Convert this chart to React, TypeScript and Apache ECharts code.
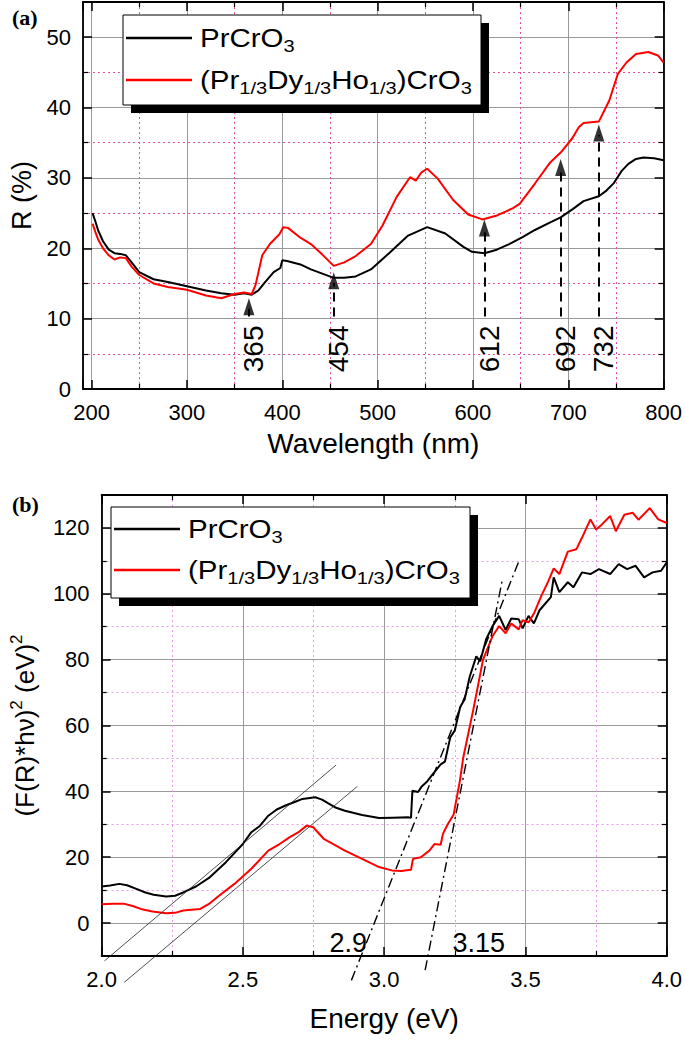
import React, { useEffect, useRef } from "react";
import * as echarts from "echarts";

// ---------- Panel (a): reflectance vs wavelength ----------
const aBlackNm = [201,204,207,212,218,224,230,236,242,250,265,280,300,320,336,350,360,368,375,382,391,398,400,405,419,430,442,454,465,477,493,512,532,552,571,590,599,612,625,638,652,665,680,692,705,716,732,740,748,756,763,771,779,790,800];
const aBlackR = [25.0,23.8,22.5,21.0,19.8,19.3,19.2,19.0,18.0,16.6,15.6,15.2,14.6,14.0,13.6,13.4,13.6,13.4,14.0,15.2,16.6,17.2,18.3,18.2,17.7,17.0,16.4,15.8,15.8,16.0,17.0,19.3,21.8,23.0,22.1,20.2,19.5,19.3,19.8,20.6,21.6,22.6,23.6,24.4,25.6,26.7,27.4,28.2,29.3,31.0,32.0,32.7,32.9,32.8,32.5];
const aRedNm = [201,204,207,212,218,224,230,236,242,250,265,280,300,320,336,350,360,368,372,379,387,397,401,406,419,430,442,454,465,477,493,505,520,534,540,546,552,563,579,595,610,626,642,649,665,681,692,704,711,716,732,743,752,761,771,784,794,800];
const aRedR = [23.5,22.3,21.2,20.0,19.0,18.4,18.7,18.6,17.4,16.2,15.0,14.5,14.1,13.3,12.9,13.5,13.7,13.5,14.8,19.0,20.6,22.0,23.0,22.9,21.5,20.6,19.1,17.5,18.0,18.9,20.6,23.2,27.3,30.1,29.6,30.8,31.3,29.9,26.9,24.8,24.1,24.7,25.7,26.3,29.2,32.2,33.6,35.6,37.2,37.8,38.0,41.0,44.8,46.4,47.6,47.9,47.4,46.4];
const arrowNm = [365, 454, 612, 692, 732];
const arrowTipR = [12.9, 16.6, 24.1, 32.7, 37.6];
const arrowBaseR = 10.3;
const arrowLabelR = 5.7;

// ---------- Panel (b): Tauc plot ----------
const bBlackE = [2.0,2.03,2.063,2.09,2.123,2.155,2.184,2.229,2.26,2.289,2.334,2.38,2.44,2.5,2.53,2.56,2.59,2.62,2.651,2.69,2.711,2.756,2.78,2.801,2.83,2.861,2.922,2.982,3.03,3.087,3.095,3.1,3.12,3.133,3.153,3.17,3.2,3.215,3.234,3.25,3.269,3.285,3.303,3.326,3.34,3.361,3.384,3.407,3.43,3.45,3.476,3.49,3.511,3.53,3.55,3.569,3.59,3.6,3.62,3.65,3.67,3.7,3.73,3.76,3.8,3.83,3.86,3.89,3.92,3.95,3.98,4.0];
const bBlackF = [11.1,11.4,11.9,11.5,10.4,9.3,8.6,8.1,8.3,9.3,11.1,13.7,18.5,24.0,27.6,29.5,32.6,34.5,35.7,37.0,37.7,38.2,37.5,36.4,35.0,34.1,32.8,31.9,32.0,32.1,32.0,40.2,39.8,41.5,43.1,45.0,48.2,49.0,56.4,58.5,65.6,68.0,74.9,81.0,79.5,86.2,90.2,93.3,89.0,92.5,92.3,89.5,93.3,91.0,95.0,96.9,99.0,105.0,100.5,103.5,102.0,106.5,106.0,107.5,106.0,109.0,107.5,108.5,105.0,106.5,107.0,109.5];
const bRedE = [2.0,2.04,2.078,2.11,2.139,2.18,2.229,2.26,2.289,2.349,2.38,2.41,2.47,2.53,2.59,2.63,2.666,2.7,2.726,2.749,2.786,2.82,2.861,2.922,2.982,3.027,3.06,3.095,3.102,3.13,3.16,3.178,3.2,3.208,3.225,3.246,3.268,3.28,3.315,3.35,3.384,3.407,3.43,3.45,3.476,3.49,3.511,3.53,3.557,3.58,3.6,3.62,3.65,3.68,3.7,3.73,3.75,3.77,3.8,3.82,3.85,3.88,3.9,3.94,3.97,4.0];
const bRedF = [5.7,5.9,5.9,5.2,4.3,3.5,3.0,3.1,3.8,4.3,5.8,7.9,11.9,16.5,22.0,24.0,26.1,27.8,29.6,29.1,25.6,24.0,22.0,19.5,17.0,16.0,15.8,16.2,19.5,20.0,22.0,24.0,23.8,27.1,30.0,33.0,43.2,50.3,64.6,80.0,87.2,90.2,88.0,91.0,89.2,92.0,91.3,94.0,99.5,103.6,107.7,106.0,112.8,113.5,117.0,122.6,119.5,121.0,123.6,119.0,124.0,124.6,122.5,126.0,122.6,121.5];
const tangentBlackE = [2.01, 2.83];
const tangentBlackF = [-11.5, 48];
const tangentRedE = [2.08, 2.905];
const tangentRedF = [-18, 41.5];
const gapBlackE = [2.884, 3.476];
const gapBlackF = [-17.4, 109.7];
const gapRedE = [3.145, 3.419];
const gapRedF = [-14.3, 104.6];
const gapLabels = ["2.9", "3.15"];
const gapLabelE = [2.873, 3.335];
const gapLabelF = -6.2;

const FONT = "'Liberation Sans', Arial, sans-serif";
const SERIF = "'Liberation Serif', 'Times New Roman', serif";

const zip = (xs: number[], ys: number[]) => xs.map((x, i) => [x, ys[i]]);

function mkAxis(o: any) {
  const mirror = !!o.mirror;
  const fmt = (v: number) => {
    const k = v / o.labelStep;
    if (Math.abs(k - Math.round(k)) > 1e-6) return "";
    return o.decimals ? v.toFixed(o.decimals) : String(Math.round(v));
  };
  const ax: any = {
    type: "value",
    gridIndex: o.gridIndex,
    position: o.position,
    min: o.min,
    max: o.max,
    axisLine: { show: true, onZero: false, lineStyle: { color: "#000", width: 1.8 } },
    axisTick: { show: true, inside: true, length: 9, lineStyle: { color: "#000", width: 1.5 } },
    minorTick: { show: true, splitNumber: 2, length: 5, lineStyle: { color: "#000", width: 1.2 } },
    axisLabel: mirror
      ? { show: false }
      : { show: true, color: "#000", fontSize: 22, fontFamily: FONT, margin: 12, formatter: fmt },
    splitLine: mirror ? { show: false } : { show: true, lineStyle: { color: "#9a9a9a", width: 1 } },
    minorSplitLine: mirror
      ? { show: false }
      : { show: true, lineStyle: { color: o.minorColor, width: 1, type: [2, 3] } },
  };
  if (o.interval !== undefined) ax.interval = o.interval;
  if (o.splitNumber !== undefined) ax.splitNumber = o.splitNumber;
  if (!mirror && o.name) {
    ax.name = o.name;
    ax.nameLocation = "middle";
    ax.nameGap = o.nameGap;
    ax.nameTextStyle = Object.assign(
      { color: "#000", fontSize: o.nameSize || 27, fontFamily: FONT },
      o.nameStyle || {}
    );
  }
  return ax;
}

function legendGroup(x: number, y: number, w: number, h: number, y1: number, y2: number) {
  const txtStyle = (text: string) => ({
    text,
    fontSize: 25,
    fontFamily: FONT,
    fill: "#000",
    align: "left",
    verticalAlign: "middle",
    lineHeight: 34,
    rich: { s: { fontSize: 17, fontFamily: FONT, fill: "#000", verticalAlign: "bottom", lineHeight: 17 } },
  });
  return [
    { type: "rect", z: 100, shape: { x: x + 8, y: y + 8, width: w, height: h }, style: { fill: "#000" } },
    { type: "rect", z: 101, shape: { x, y, width: w, height: h }, style: { fill: "#fff", stroke: "#000", lineWidth: 1 } },
    { type: "line", z: 102, shape: { x1: x + 3, y1: y1, x2: x + 69, y2: y1 }, style: { stroke: "#000", lineWidth: 2.5 } },
    { type: "line", z: 102, shape: { x1: x + 3, y1: y2, x2: x + 69, y2: y2 }, style: { stroke: "#ff0000", lineWidth: 2.5 } },
    { type: "text", z: 102, x: x + 77, y: y1, scaleX: 1.18, style: txtStyle("PrCrO{s|3}") },
    { type: "text", z: 102, x: x + 77, y: y2, scaleX: 1.18, style: txtStyle("(Pr{s|1/3}Dy{s|1/3}Ho{s|1/3})CrO{s|3}") },
  ];
}

// custom series drawing a text at a data point (positioned through the axes)
function textSeries(xi: number, yi: number, names: string[], xs: number[], ys: number[], size: number, rot: number, dx: number) {
  return {
    type: "custom",
    xAxisIndex: xi,
    yAxisIndex: yi,
    silent: true,
    z: 7,
    clip: false,
    data: xs.map((x, i) => ({ value: [x, ys[i]], name: names[i] })),
    renderItem: (params: any, api: any) => {
      const p = api.coord([api.value(0), api.value(1)]);
      return {
        type: "text",
        x: p[0] + dx,
        y: p[1],
        rotation: rot,
        style: {
          text: names[params.dataIndex],
          fill: "#000",
          fontSize: size,
          fontFamily: FONT,
          align: "center",
          verticalAlign: "middle",
        },
      };
    },
  };
}

export default function App() {
  const ref = useRef<HTMLDivElement>(null);
  useEffect(() => {
    if (!ref.current) return;
    const chart = echarts.init(ref.current, undefined, { renderer: "svg" });
    const option: any = {
      animation: false,
      backgroundColor: "#fff",
      textStyle: { fontFamily: FONT },
      grid: [
        { left: 83, top: 2, width: 582, height: 387 },
        { left: 91, top: 495, width: 577, height: 461 },
      ],
      xAxis: [
        mkAxis({ gridIndex: 0, position: "bottom", min: 191, max: 800, splitNumber: 6, labelStep: 100, minorColor: "#e0509f", name: "Wavelength (nm)", nameGap: 40, nameSize: 28 }),
        mkAxis({ gridIndex: 0, position: "top", min: 191, max: 800, splitNumber: 6, labelStep: 100, mirror: true }),
        mkAxis({ gridIndex: 1, position: "bottom", min: 2, max: 4, interval: 0.5, labelStep: 0.5, decimals: 1, minorColor: "#e79be8", name: "Energy (eV)", nameGap: 48, nameSize: 28 }),
        mkAxis({ gridIndex: 1, position: "top", min: 2, max: 4, interval: 0.5, labelStep: 0.5, mirror: true }),
      ],
      yAxis: [
        mkAxis({ gridIndex: 0, position: "left", min: 0, max: 55, interval: 10, labelStep: 10, minorColor: "#e0509f", name: "R (%)", nameGap: 48, nameSize: 27 }),
        mkAxis({ gridIndex: 0, position: "right", min: 0, max: 55, interval: 10, labelStep: 10, mirror: true }),
        mkAxis({
          gridIndex: 1, position: "left", min: -10, max: 130, splitNumber: 7, labelStep: 20, minorColor: "#e79be8",
          name: "(F(R)*hν){p|2} (eV){p|2}", nameGap: 58, nameSize: 26,
          nameStyle: { lineHeight: 34, rich: { p: { fontSize: 17, fontFamily: FONT, color: "#000", verticalAlign: "top", lineHeight: 17 } } },
        }),
        mkAxis({ gridIndex: 1, position: "right", min: -10, max: 130, splitNumber: 7, labelStep: 20, mirror: true }),
      ],
      series: [
        {
          type: "line", xAxisIndex: 0, yAxisIndex: 0, data: zip(aBlackNm, aBlackR), showSymbol: false, symbol: "none",
          lineStyle: { color: "#000", width: 2 }, z: 3, silent: true,
          markLine: {
            silent: true, symbol: ["none", "none"], label: { show: false },
            lineStyle: { color: "#000", width: 2, type: [9, 6] },
            data: arrowNm.map((nm, i) => [{ coord: [nm, arrowBaseR] }, { coord: [nm, arrowTipR[i] - 1.5] }]),
          },
        },
        {
          type: "line", xAxisIndex: 0, yAxisIndex: 0, data: zip(aRedNm, aRedR), showSymbol: false, symbol: "none",
          lineStyle: { color: "#ff0000", width: 2 }, z: 4, silent: true,
        },
        {
          type: "scatter", xAxisIndex: 0, yAxisIndex: 0, data: zip(arrowNm, arrowTipR), symbol: "triangle",
          symbolSize: [11, 17], symbolOffset: [0, 8.5], itemStyle: { color: "#000" }, z: 6, silent: true,
        },
        textSeries(0, 0, arrowNm.map(String), arrowNm, arrowNm.map(() => arrowLabelR), 28, Math.PI / 2, 5),
        {
          type: "line", xAxisIndex: 2, yAxisIndex: 2, data: zip(bBlackE, bBlackF), showSymbol: false, symbol: "none",
          lineStyle: { color: "#000", width: 2 }, z: 3, silent: true,
        },
        {
          type: "line", xAxisIndex: 2, yAxisIndex: 2, data: zip(bRedE, bRedF), showSymbol: false, symbol: "none",
          lineStyle: { color: "#ff0000", width: 2 }, z: 4, silent: true,
        },
        {
          type: "line", xAxisIndex: 2, yAxisIndex: 2, data: zip(tangentBlackE, tangentBlackF), showSymbol: false, symbol: "none",
          clip: false, lineStyle: { color: "#222", width: 0.8 }, z: 5, silent: true,
        },
        {
          type: "line", xAxisIndex: 2, yAxisIndex: 2, data: zip(tangentRedE, tangentRedF), showSymbol: false, symbol: "none",
          clip: false, lineStyle: { color: "#222", width: 0.8 }, z: 5, silent: true,
        },
        {
          type: "line", xAxisIndex: 2, yAxisIndex: 2, data: zip(gapBlackE, gapBlackF), showSymbol: false, symbol: "none",
          clip: false, lineStyle: { color: "#000", width: 1.4, type: [10, 4, 2, 4] }, z: 5, silent: true,
        },
        {
          type: "line", xAxisIndex: 2, yAxisIndex: 2, data: zip(gapRedE, gapRedF), showSymbol: false, symbol: "none",
          clip: false, lineStyle: { color: "#000", width: 1.4, type: [10, 4, 2, 4] }, z: 5, silent: true,
        },
        textSeries(2, 2, gapLabels, gapLabelE, gapLabelE.map(() => gapLabelF), 27, 0, 0),
      ],
      graphic: [
        { type: "text", z: 110, x: 12, y: 17, style: { text: "(a)", fontSize: 22, fontWeight: "bold", fontFamily: SERIF, fill: "#000", verticalAlign: "middle" } },
        { type: "text", z: 110, x: 12, y: 504, style: { text: "(b)", fontSize: 22, fontWeight: "bold", fontFamily: SERIF, fill: "#000", verticalAlign: "middle" } },
        ...legendGroup(123, 15, 358, 90, 38, 80),
        ...legendGroup(111, 507, 359, 91, 529, 570),
      ],
    };
    chart.setOption(option);
    return () => chart.dispose();
  }, []);
  return (
    <div
      ref={ref}
      style={{ position: "absolute", left: 0, top: 0, width: 685, height: 1040, background: "#fff" }}
    />
  );
}
